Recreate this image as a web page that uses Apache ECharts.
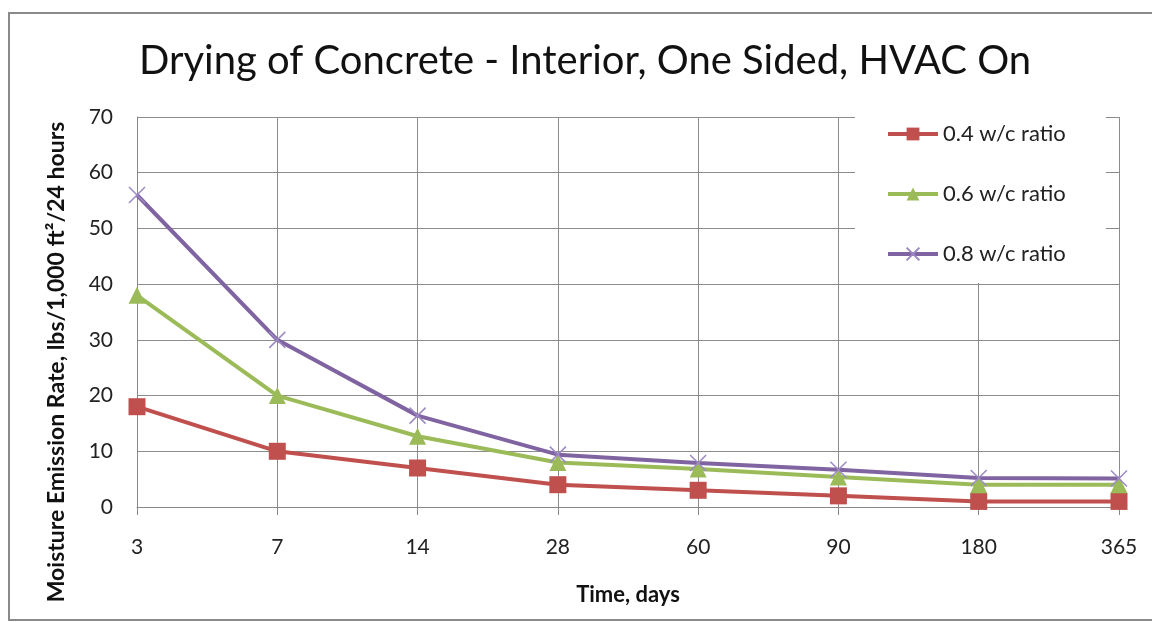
<!DOCTYPE html>
<html>
<head>
<meta charset="utf-8">
<script src="https://cdn.jsdelivr.net/npm/echarts@6/dist/echarts.min.js"></script>
<style>html,body{margin:0;padding:0;background:#fff;}#c{width:1152px;height:622px;}</style>
</head>
<body>
<div id="c"></div>
<script>
const categories = ['3', '7', '14', '28', '60', '90', '180', '365'];
const seriesNames = ['0.4 w/c ratio', '0.6 w/c ratio', '0.8 w/c ratio'];
const wc04 = [18, 10, 7, 4, 3, 2, 1, 1];
const wc06 = [38, 20, 12.7, 8, 6.8, 5.4, 4, 4];
const wc08 = [56, 30, 16.4, 9.4, 7.9, 6.7, 5.2, 5.1];
const yTicks = [0, 10, 20, 30, 40, 50, 60, 70];

const FONT = 'Lato, "Open Sans", sans-serif';
const chart = echarts.init(document.getElementById('c'), null, {renderer: 'canvas'});
const cross = 'path://M0,0L10,10M10,0L0,10';

chart.setOption({
  animation: false,
  backgroundColor: '#fff',
  title: {
    text: 'Drying of Concrete - Interior, One Sided, HVAC On',
    left: 580, top: 36, textAlign: 'center',
    textStyle: {fontFamily: FONT, fontWeight: 'normal', fontSize: 40, color: '#111'}
  },
  grid: {left: 137, right: 33, top: 117, bottom: 115},
  legend: {
    orient: 'vertical', left: 855, top: 117,
    padding: [6, 40, 18, 31],
    backgroundColor: '#fff',
    itemWidth: 50, itemHeight: 16, itemGap: 38,
    lineStyle: {width: 4},
    textStyle: {fontFamily: FONT, fontSize: 22, color: '#222'},
    data: seriesNames
  },
  xAxis: {
    type: 'category', data: categories, boundaryGap: false,
    name: 'Time, days', nameLocation: 'middle', nameGap: 77,
    nameTextStyle: {fontFamily: FONT, fontWeight: 'bold', fontSize: 22, color: '#111'},
    axisLine: {lineStyle: {color: '#888', width: 1}},
    axisTick: {show: true, length: 8, lineStyle: {color: '#888'}},
    axisLabel: {fontFamily: FONT, fontSize: 21, color: '#222', margin: 30},
    splitLine: {show: true, lineStyle: {color: '#8c8c8c', width: 1}}
  },
  yAxis: {
    type: 'value', min: 0, max: 70, interval: 10,
    axisLine: {show: true, lineStyle: {color: '#888'}},
    axisTick: {show: false},
    axisLabel: {fontFamily: FONT, fontSize: 21, color: '#222', margin: 24,
      formatter: v => yTicks.includes(v) ? String(v) : ''},
    splitLine: {show: true, lineStyle: {color: '#8c8c8c', width: 1}}
  },
  graphic: [
    {type: 'rect', shape: {x: 9, y: 13, width: 1200, height: 607},
     style: {fill: 'none', stroke: '#8a8a8a', lineWidth: 2}, silent: true},
    {type: 'text', x: 57, y: 362, rotation: Math.PI / 2,
     style: {text: 'Moisture Emission Rate, lbs/1,000 ft²/24 hours', fontFamily: FONT,
       fontWeight: 'bold', fontSize: 23, fill: '#111', textAlign: 'center', textVerticalAlign: 'middle'}}
  ],
  series: [
    {name: seriesNames[0], type: 'line', data: wc04, symbol: 'rect', symbolSize: 17,
     lineStyle: {color: '#C0504D', width: 4}, itemStyle: {color: '#C0504D'}, z: 3},
    {name: seriesNames[1], type: 'line', data: wc06, symbol: 'triangle', symbolSize: 17,
     lineStyle: {color: '#9BBB59', width: 4}, itemStyle: {color: '#9BBB59'}, z: 3},
    {name: seriesNames[2], type: 'line', data: wc08, symbol: cross, symbolSize: 16,
     lineStyle: {color: '#8064A2', width: 4},
     itemStyle: {color: '#8064A2', borderColor: '#9C88C4', borderWidth: 1.5}, z: 3}
  ]
});
</script>
</body>
</html>
